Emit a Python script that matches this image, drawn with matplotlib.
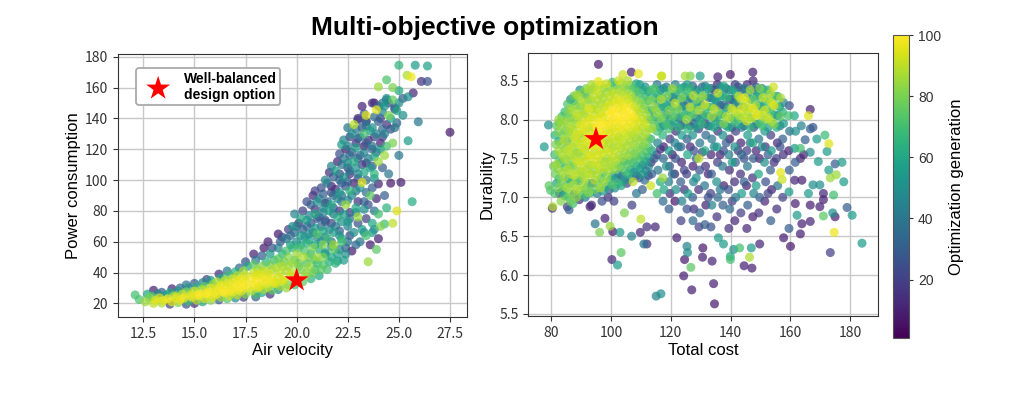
import numpy as np
import matplotlib
matplotlib.use("Agg")
import matplotlib.pyplot as plt
from matplotlib.cm import ScalarMappable
from matplotlib.colors import Normalize

plt.rcParams['font.family'] = ['Noto Sans CJK JP', 'DejaVu Sans']

# ---------------- data ----------------
# left panel: (air velocity, power consumption, generation)
left_band = [
    (12.1,25.5,70),(12.3,22.5,72),(12.6,21.0,85),(12.8,23.5,80),(12.7,26.0,60),
    (13.0,20.0,90),(13.1,22.0,95),(12.9,24.5,75),(13.2,26.2,45),(13.0,28.5,10),
    (13.4,20.2,88),(13.5,21.8,96),(13.3,23.6,92),(13.6,25.5,55),(13.4,27.2,30),
    (13.8,19.5,20),(13.9,21.0,95),(13.7,23.0,98),(14.0,25.0,85),(13.8,27.0,60),(13.9,29.5,12),
    (14.2,20.5,80),(14.3,22.0,97),(14.1,24.0,95),(14.4,26.0,90),(14.2,28.0,55),(14.3,30.0,35),
    (14.6,19.5,25),(14.7,21.5,70),(14.5,23.5,98),(14.8,25.5,94),(14.6,27.5,80),(14.7,30.0,50),(14.6,32.0,40),
    (15.0,20.0,15),(15.1,22.0,88),(14.9,24.0,96),(15.2,26.0,99),(15.0,28.0,92),(15.1,30.5,65),(15.0,33.0,30),
    (15.4,21.0,60),(15.5,23.0,93),(15.3,25.0,97),(15.6,27.0,99),(15.4,29.0,90),(15.5,31.0,75),(15.4,33.5,45),(15.6,35.5,20),
    (15.8,22.0,82),(15.9,24.0,95),(15.7,26.0,98),(16.0,28.0,96),(15.8,30.0,94),(15.9,32.5,80),(15.8,35.0,55),
    (16.2,22.3,30),(16.3,24.0,85),(16.1,26.0,97),(16.4,28.0,99),(16.2,30.0,97),(16.3,32.0,95),(16.1,34.0,88),(16.3,36.5,60),(16.2,39.0,15),
    (16.6,23.0,75),(16.7,25.0,92),(16.5,27.0,99),(16.8,29.0,98),(16.6,31.0,96),(16.7,33.0,94),(16.5,35.0,90),(16.7,38.0,70),(16.6,41.0,40),
    (17.0,23.5,50),(17.1,25.5,90),(16.9,27.5,96),(17.2,30.0,99),(17.0,32.0,98),(17.1,34.0,97),(16.9,36.0,93),(17.1,38.0,88),(17.0,40.5,65),(17.2,43.0,35),
    (17.4,24.0,20),(17.5,26.0,80),(17.3,28.0,94),(17.6,30.0,97),(17.4,32.0,99),(17.5,34.0,98),(17.3,36.0,96),(17.5,38.0,92),(17.4,41.0,85),(17.6,44.0,60),(17.5,47.0,25),
    (18.0,24.2,30),(18.0,26.0,70),(17.8,28.0,88),(18.1,30.0,95),(17.9,32.0,97),(18.0,34.0,99),(17.8,36.0,97),(18.0,38.0,95),(17.9,40.0,90),(18.1,42.0,85),(17.9,45.0,75),(18.0,48.0,40),(17.9,52.0,10),
    (18.3,27.0,60),(18.4,29.0,85),(18.2,31.0,93),(18.5,33.0,97),(18.3,35.0,98),(18.4,37.0,96),(18.2,39.0,94),(18.4,41.0,90),(18.3,44.0,80),(18.5,47.0,65),(18.3,51.0,30),(18.4,56.0,8),
    (18.7,26.0,15),(18.8,28.5,75),(18.6,30.5,88),(18.9,33.0,95),(18.7,35.0,97),(18.8,37.0,95),(18.6,39.5,92),(18.8,42.0,88),(18.7,45.0,78),(18.9,48.0,70),(18.7,52.0,55),(18.8,56.0,25),(18.6,60.0,10),
    (19.1,29.0,50),(19.2,31.0,85),(19.0,33.0,92),(19.3,35.0,95),(19.1,37.0,93),(19.2,40.0,90),(19.0,43.0,87),(19.2,46.0,80),(19.1,49.0,75),(19.3,52.0,65),(19.1,56.0,45),(19.2,60.0,30),(19.1,65.0,8),
    (19.5,30.0,85),(19.6,32.0,80),(19.4,35.0,90),(19.7,38.0,92),(19.5,41.0,88),(19.6,44.0,84),(19.4,47.0,78),(19.6,50.0,82),(19.5,54.0,70),(19.7,58.0,55),(19.5,62.0,40),(19.6,68.0,20),
    (19.9,32.0,70),(20.0,36.0,88),(19.8,40.0,90),(20.1,44.0,80),(19.9,48.0,75),(20.0,52.0,85),(19.8,56.0,65),(20.0,60.0,50),(19.9,66.0,35),(20.1,72.0,12),(19.9,78.0,45),
    (19.3,63.0,25),(19.7,64.0,35),(19.8,70.0,50),(19.3,44.0,88),(19.8,46.0,85),
]
left_cloud = [
    (20.3,34.0,75),(20.4,38.0,85),(20.2,42.0,80),(20.5,46.0,70),(20.3,50.0,88),(20.4,54.0,72),(20.2,58.0,60),(20.4,63.0,45),(20.3,68.0,30),(20.5,74.0,55),(20.3,80.0,20),
    (20.7,36.0,65),(20.8,40.0,78),(20.6,44.0,85),(20.9,48.0,72),(20.7,52.0,66),(20.8,56.0,80),(20.6,61.0,55),(20.8,66.0,40),(20.7,72.0,25),(20.9,78.0,60),(20.7,84.0,30),(20.8,90.0,12),
    (21.1,38.0,60),(21.2,42.0,75),(21.0,46.0,70),(21.3,50.0,80),(21.1,55.0,62),(21.2,60.0,50),(21.0,65.0,72),(21.2,70.0,35),(21.1,76.0,20),(21.3,82.0,50),(21.1,88.0,40),(21.2,95.0,25),
    (21.5,42.0,70),(21.6,47.0,62),(21.4,52.0,55),(21.7,57.0,48),(21.5,62.0,68),(21.6,68.0,45),(21.4,74.0,30),(21.6,80.0,55),(21.5,86.0,35),(21.7,92.0,20),(21.5,98.0,40),(21.6,105.0,15),
    (21.9,46.0,65),(22.0,52.0,58),(21.8,58.0,85),(22.1,64.0,50),(21.9,70.0,40),(22.0,76.0,62),(21.8,82.0,30),(22.0,88.0,45),(21.9,94.0,15),(22.1,100.0,35),(21.9,106.0,55),(22.0,112.0,10),
    (22.3,48.0,55),(22.4,56.0,30),(22.2,62.0,60),(22.5,70.0,45),(22.3,78.0,55),(22.4,84.0,85),(22.2,90.0,35),(22.4,96.0,25),(22.3,102.0,50),(22.5,108.0,20),(22.3,114.0,40),(22.4,120.0,8),(22.3,126.0,45),
    (22.7,54.0,8),(22.8,66.0,50),(22.6,75.0,35),(22.9,82.0,60),(22.7,90.0,45),(22.8,98.0,10),(22.6,106.0,40),(22.8,112.0,60),(22.7,118.0,30),(22.9,124.0,15),(22.7,130.0,50),(22.8,136.0,90),
    (23.1,60.0,40),(23.2,68.0,55),(23.0,76.0,85),(23.3,86.0,30),(23.1,95.0,50),(23.2,98.5,95),(23.0,104.0,45),(23.2,110.0,20),(23.1,116.0,35),(23.3,122.0,8),(23.1,128.0,40),(23.2,134.0,25),(23.0,140.0,12),(23.2,147.8,10),
    (23.5,47.0,85),(23.6,58.0,10),(23.4,64.0,70),(23.7,72.0,60),(23.5,84.0,25),(23.6,90.0,75),(23.4,100.0,35),(23.6,108.0,55),(23.5,114.0,40),(23.7,120.0,30),(23.5,126.0,15),(23.6,132.0,55),(23.4,138.0,20),(23.4,142.0,95),
    (23.9,55.0,75),(24.0,62.0,10),(23.8,68.0,45),(24.0,78.0,70),(23.9,88.0,12),(24.0,97.5,10),(23.8,104.0,65),(24.0,112.0,85),(23.9,118.0,35),(24.1,124.0,10),(23.9,130.0,45),(24.0,138.0,30),(23.9,145.6,95),(23.8,150.0,8),(24.0,160.5,85),
    (24.3,71.5,70),(24.4,82.0,65),(24.3,90.0,30),(24.5,104.0,40),(24.3,116.0,85),(24.4,122.0,70),(24.2,128.0,20),(24.4,136.0,15),(24.5,142.0,80),(24.3,148.0,55),(24.4,152.0,35),(24.4,165.0,72),
    (24.7,72.0,90),(24.9,80.0,95),(24.6,98.0,8),(24.7,124.0,80),(24.8,134.0,40),(24.6,140.0,60),(24.8,146.0,20),(24.7,152.0,75),(24.7,160.0,80),
    (25.0,116.0,40),(24.9,137.0,35),(25.2,142.0,50),(25.0,150.0,50),(25.0,158.0,60),(25.2,153.0,30),(25.0,174.5,65),
    (25.45,125.5,55),(25.1,98.5,10),(25.45,154.0,50),(25.4,168.0,88),(25.6,167.0,97),(25.7,156.5,12),(25.65,86.0,62),
    (25.8,174.5,55),(25.95,137.8,40),(26.1,164.0,15),(26.4,164.0,25),(26.4,174.0,58),(27.5,131.0,8),
    (24.0,148.0,30),(24.5,150.0,20),(24.2,144.0,45),(24.8,147.0,35),(23.7,150.0,15),(24.4,153.0,50),
    (24.9,145.0,60),(23.4,138.0,30),(24.6,133.0,25),(24.3,130.0,45),(22.0,47.5,55),(22.4,52.0,50),
    (20.1,46.0,75),(20.1,56.0,70),(20.2,64.0,55),(20.0,70.0,40),(20.2,75.0,60),
    (20.5,40.0,82),(20.6,50.0,78),(20.5,59.0,65),(20.6,65.0,50),(20.5,70.0,35),(20.6,77.0,45),(20.5,86.0,25),
    (20.9,42.0,70),(21.0,50.0,85),(20.9,58.0,60),(21.0,63.0,45),(20.9,69.0,55),(21.0,75.0,30),(20.9,81.0,15),(21.0,86.0,50),(20.9,93.0,20),
    (21.3,45.0,72),(21.4,53.0,50),(21.3,58.0,80),(21.4,63.0,40),(21.3,67.0,60),(21.4,73.0,25),(21.3,79.0,45),(21.4,85.0,10),(21.3,91.0,30),(21.4,100.0,45),
    (21.7,50.0,60),(21.8,55.0,75),(21.7,60.0,35),(21.8,66.0,55),(21.7,72.0,20),(21.8,78.0,40),(21.7,84.0,60),(21.8,90.0,35),(21.7,96.0,10),(21.8,102.0,30),(21.7,109.0,45),
    (22.1,55.0,45),(22.2,60.0,70),(22.1,67.0,30),(22.2,73.0,50),(22.1,80.0,15),(22.2,86.0,40),(22.1,92.0,55),(22.2,98.0,30),(22.1,104.0,20),(22.2,110.0,40),(22.1,117.0,25),(22.2,123.0,55),
    (22.5,60.0,40),(22.6,64.0,25),(22.5,73.0,55),(22.6,79.0,20),(22.5,87.0,45),(22.6,93.0,65),(22.5,99.0,30),(22.6,104.0,15),(22.5,111.0,50),(22.6,116.0,35),(22.5,122.0,45),(22.6,128.0,20),(22.5,134.0,40),
    (22.9,58.0,35),(23.0,72.0,25),(22.9,79.0,45),(23.0,86.0,15),(22.9,93.0,40),(23.0,101.0,25),(22.9,108.0,50),(23.0,114.0,30),(22.9,121.0,55),(23.0,127.0,25),(22.9,133.0,40),(23.0,139.0,20),
    (23.3,66.0,45),(23.4,75.0,20),(23.3,81.0,50),(23.4,92.0,35),(23.3,105.0,60),(23.4,111.0,15),(23.3,118.0,45),(23.4,124.0,30),(23.3,130.0,70),(23.4,135.0,40),(23.3,143.0,25),
    (23.7,66.0,55),(23.8,80.0,40),(23.7,95.0,30),(23.8,101.0,50),(23.7,109.0,25),(23.8,115.0,60),(23.7,122.0,40),(23.8,128.0,20),(23.7,134.0,50),(23.8,141.0,35),
    (24.1,70.0,80),(24.2,108.0,30),(24.1,120.0,55),(24.2,133.0,35),(24.1,140.0,20),(24.2,150.0,40),
]

# right panel: (total cost, durability, generation)
right_core = [
    (81.3,7.05,72),(81.8,7.18,60),(81.4,7.30,78),(81.7,7.42,85),(81.2,7.55,70),(81.6,7.68,80),(81.3,7.80,65),(81.8,7.92,75),
    (82.5,7.12,80),(82.6,7.24,68),(82.4,7.36,82),(82.7,7.48,75),(82.5,7.60,85),(82.6,7.72,62),(82.4,7.84,80),(82.7,7.96,72),(82.5,8.00,85),
    (83.3,6.95,82),(83.7,7.08,55),(83.4,7.20,80),(83.8,7.32,86),(83.2,7.44,72),(83.6,7.56,88),(83.4,7.68,84),(83.8,7.80,78),(83.3,7.92,85),(83.6,8.04,70),
    (84.5,7.02,65),(84.6,7.14,78),(84.4,7.26,84),(84.7,7.38,70),(84.5,7.50,86),(84.6,7.62,80),(84.4,7.74,88),(84.7,7.86,74),(84.5,7.98,82),(84.6,8.10,68),
    (85.4,6.88,20),(85.7,7.00,75),(85.3,7.12,86),(85.8,7.24,50),(85.5,7.36,88),(85.2,7.48,84),(85.7,7.60,90),(85.4,7.72,60),(85.8,7.84,86),(85.3,7.96,85),(85.6,8.08,80),(85.5,8.20,72),
    (86.5,6.95,78),(86.6,7.06,82),(86.4,7.18,70),(86.7,7.30,88),(86.5,7.42,80),(86.6,7.54,86),(86.4,7.66,90),(86.7,7.78,84),(86.5,7.90,88),(86.6,8.02,76),(86.4,8.14,84),(86.5,8.26,45),
    (87.3,6.92,70),(87.7,7.04,30),(87.4,7.16,86),(87.8,7.28,90),(87.3,7.40,78),(87.6,7.52,88),(87.4,7.64,86),(87.8,7.76,92),(87.3,7.88,88),(87.7,8.00,84),(87.4,8.12,86),(87.6,8.24,65),(87.5,8.30,75),
    (88.5,7.00,82),(88.6,7.10,88),(88.4,7.22,76),(88.7,7.34,86),(88.5,7.46,90),(88.6,7.58,84),(88.4,7.70,88),(88.7,7.82,93),(88.5,7.94,86),(88.6,8.06,90),(88.4,8.18,80),(88.5,8.32,86),
    (89.4,6.97,15),(89.7,7.09,80),(89.3,7.21,60),(89.8,7.33,88),(89.5,7.45,92),(89.2,7.57,86),(89.6,7.69,92),(89.4,7.81,88),(89.8,7.93,94),(89.3,8.05,88),(89.7,8.17,82),(89.4,8.29,86),(89.6,8.38,50),
    (90.5,7.03,70),(90.6,7.15,86),(90.4,7.27,82),(90.7,7.39,90),(90.5,7.51,86),(90.6,7.63,92),(90.4,7.75,88),(90.7,7.87,95),(90.5,7.99,90),(90.6,8.11,86),(90.4,8.23,88),(90.5,8.35,78),
    (91.4,7.00,45),(91.7,7.12,70),(91.3,7.24,88),(91.8,7.36,85),(91.5,7.48,92),(91.2,7.60,88),(91.7,7.72,94),(91.4,7.84,90),(91.8,7.96,96),(91.3,8.08,88),(91.6,8.20,86),(91.4,8.32,55),(91.7,8.40,80),
    (92.5,7.06,82),(92.6,7.18,75),(92.4,7.30,90),(92.7,7.42,86),(92.5,7.54,93),(92.6,7.66,90),(92.4,7.78,96),(92.7,7.90,92),(92.5,8.02,88),(92.6,8.14,94),(92.4,8.26,84),(92.5,8.38,88),
    (93.3,7.06,60),(93.7,7.18,25),(93.4,7.30,86),(93.8,7.42,90),(93.3,7.54,94),(93.6,7.66,96),(93.4,7.78,98),(93.8,7.90,92),(93.3,8.02,95),(93.7,8.14,88),(93.4,8.26,85),(93.6,8.38,75),(93.5,8.45,88),
    (94.5,7.10,78),(94.6,7.22,88),(94.4,7.34,84),(94.7,7.46,92),(94.5,7.58,88),(94.6,7.70,96),(94.4,7.82,92),(94.7,7.94,98),(94.5,8.06,90),(94.6,8.18,86),(94.4,8.30,90),(94.5,8.42,82),
    (95.4,7.05,40),(95.7,7.17,75),(95.3,7.29,88),(95.8,7.41,90),(95.5,7.53,94),(95.2,7.65,96),(95.7,7.77,98),(95.4,7.89,100),(95.8,8.01,95),(95.3,8.13,90),(95.6,8.25,88),(95.4,8.37,92),(95.8,8.49,96),
    (96.5,7.12,86),(96.6,7.24,70),(96.4,7.36,90),(96.7,7.48,86),(96.5,7.60,92),(96.6,7.72,95),(96.4,7.84,98),(96.7,7.96,100),(96.5,8.08,92),(96.6,8.20,88),(96.4,8.32,84),(96.5,8.44,90),
    (97.3,7.08,55),(97.7,7.20,85),(97.4,7.32,70),(97.8,7.44,88),(97.3,7.56,92),(97.6,7.68,90),(97.4,7.80,96),(97.8,7.92,99),(97.3,8.04,94),(97.7,8.16,90),(97.4,8.28,88),(97.6,8.40,82),
    (98.5,7.14,60),(98.6,7.26,82),(98.4,7.38,88),(98.7,7.50,84),(98.5,7.62,90),(98.6,7.74,86),(98.4,7.86,92),(98.7,7.98,97),(98.5,8.10,95),(98.6,8.22,88),(98.4,8.34,86),(98.5,8.46,92),
    (99.4,7.10,30),(99.7,7.22,65),(99.3,7.34,86),(99.8,7.46,88),(99.5,7.58,92),(99.2,7.70,90),(99.6,7.82,94),(99.4,7.94,98),(99.8,8.06,100),(99.3,8.18,94),(99.7,8.30,90),(99.4,8.42,78),
    (100.5,7.16,72),(100.6,7.28,55),(100.4,7.40,86),(100.7,7.52,90),(100.5,7.64,84),(100.6,7.76,92),(100.4,7.88,95),(100.7,8.00,99),(100.5,8.12,100),(100.6,8.24,92),(100.4,8.36,88),(100.5,8.48,70),
    (101.3,7.12,50),(101.7,7.24,40),(101.4,7.36,82),(101.8,7.48,88),(101.3,7.60,90),(101.6,7.72,88),(101.4,7.84,94),(101.8,7.96,97),(101.3,8.08,100),(101.7,8.20,95),(101.4,8.32,90),(101.6,8.44,70),
    (102.5,7.18,65),(102.6,7.30,45),(102.4,7.42,78),(102.7,7.54,86),(102.5,7.66,90),(102.6,7.78,86),(102.4,7.90,96),(102.7,8.02,100),(102.5,8.14,98),(102.6,8.26,94),(102.4,8.38,85),(102.5,8.50,92),
    (103.4,7.15,60),(103.7,7.27,35),(103.3,7.39,78),(103.8,7.51,86),(103.5,7.63,88),(103.2,7.75,92),(103.6,7.87,95),(103.4,7.99,100),(103.8,8.11,98),(103.3,8.23,95),(103.7,8.35,88),(103.5,8.47,86),(104.0,8.58,92),
    (104.5,7.22,50),(104.6,7.34,70),(104.4,7.46,60),(104.7,7.58,84),(104.5,7.70,88),(104.6,7.82,92),(104.4,7.94,98),(104.7,8.06,100),(104.5,8.18,96),(104.6,8.30,90),(104.4,8.42,82),
    (105.3,7.18,20),(105.7,7.30,65),(105.4,7.42,75),(105.8,7.54,84),(105.3,7.66,88),(105.6,7.78,90),(105.4,7.90,95),(105.8,8.02,99),(105.3,8.14,100),(105.7,8.26,92),(105.4,8.38,80),(105.6,8.50,88),
    (106.5,7.24,40),(106.6,7.36,55),(106.4,7.48,72),(106.7,7.60,80),(106.5,7.72,86),(106.6,7.84,90),(106.4,7.96,97),(106.7,8.08,100),(106.5,8.20,94),(106.6,8.32,86),(106.4,8.44,75),
    (107.4,7.20,90),(107.7,7.32,50),(107.3,7.44,70),(107.8,7.56,80),(107.5,7.68,86),(107.2,7.80,88),(107.6,7.92,94),(107.4,8.04,97),(107.8,8.16,92),(107.3,8.28,80),(107.6,8.40,70),
    (108.5,7.28,35),(108.6,7.40,60),(108.4,7.52,75),(108.7,7.64,82),(108.5,7.76,86),(108.6,7.88,92),(108.4,8.00,95),(108.7,8.12,90),(108.5,8.24,84),(108.6,8.36,72),(108.5,8.46,60),
    (109.4,7.25,25),(109.7,7.37,55),(109.3,7.49,68),(109.8,7.61,78),(109.5,7.73,84),(109.2,7.85,88),(109.6,7.97,92),(109.4,8.09,88),(109.8,8.21,82),(109.3,8.33,70),(109.6,8.45,55),
    (110.5,7.30,55),(110.6,7.42,40),(110.4,7.54,70),(110.7,7.66,78),(110.5,7.78,85),(110.6,7.90,88),(110.4,8.02,90),(110.7,8.14,84),(110.5,8.26,75),(110.6,8.38,60),
    (111.3,7.22,35),(111.7,7.34,45),(111.4,7.46,60),(111.8,7.58,72),(111.3,7.70,82),(111.6,7.82,88),(111.4,7.94,92),(111.8,8.06,85),(111.3,8.18,78),(111.7,8.30,65),(111.4,8.42,50),
    (112.5,7.28,20),(112.6,7.40,45),(112.4,7.52,55),(112.7,7.64,70),(112.5,7.76,75),(112.6,7.88,86),(112.4,8.00,80),(112.7,8.12,72),(112.5,8.24,70),(112.6,8.36,55),
]
right_mid = [
    (113.3,7.15,92),(113.6,7.30,30),(113.4,7.45,15),(113.7,7.60,55),(113.3,7.75,65),(113.6,7.88,85),(113.4,8.00,75),(113.8,8.12,55),(113.5,8.25,80),(113.3,8.38,70),
    (115.4,7.05,70),(115.7,7.35,40),(115.3,7.55,20),(115.6,7.70,45),(115.4,7.85,70),(115.8,7.97,60),(115.3,8.09,85),(115.6,8.21,55),(115.5,8.33,65),(115.4,8.45,40),(116.8,8.56,92),
    (117.4,6.95,35),(117.7,7.10,60),(117.3,7.25,85),(117.5,7.50,35),(117.6,7.65,10),(117.3,7.80,65),(117.7,7.92,50),(117.4,8.04,75),(117.8,8.16,45),(117.3,8.28,60),(117.6,8.40,52),
    (119.4,6.85,30),(119.7,7.05,15),(119.3,7.20,45),(119.6,7.40,25),(119.4,7.60,55),(119.7,7.75,20),(119.3,7.88,70),(119.6,8.00,55),(119.4,8.12,80),(119.8,8.24,50),(119.5,8.36,62),
    (121.4,6.95,8),(121.7,7.10,50),(121.3,7.30,10),(121.6,7.50,25),(121.4,7.70,45),(121.7,7.85,15),(121.3,7.97,60),(121.6,8.09,70),(121.4,8.21,90),(121.7,8.33,55),(121.5,8.45,45),
    (123.4,6.70,20),(123.7,6.95,45),(123.3,7.20,30),(123.6,7.45,12),(123.4,7.65,35),(123.7,7.80,55),(123.3,7.92,25),(123.6,8.04,65),(123.4,8.16,50),(123.7,8.28,80),(123.5,8.40,60),
    (125.4,6.85,25),(125.7,7.05,55),(125.3,7.30,20),(125.6,7.55,60),(125.4,7.75,30),(125.7,7.88,65),(125.3,8.00,85),(125.6,8.12,55),(125.4,8.24,40),(125.7,8.36,70),(125.5,8.45,55),(124.8,8.56,85),(126.5,8.56,80),
    (127.4,6.70,35),(127.7,6.85,15),(127.3,7.00,30),(127.6,7.20,45),(127.4,7.40,10),(127.7,7.60,25),(127.3,7.80,50),(127.6,7.95,35),(127.4,8.07,75),(127.7,8.19,55),(127.5,8.31,88),(127.3,8.43,30),
    (129.4,6.62,20),(129.7,6.80,35),(129.3,7.10,15),(129.6,7.35,25),(129.4,7.50,90),(129.7,7.70,40),(129.3,7.88,20),(129.6,8.00,60),(129.4,8.12,88),(129.7,8.24,50),(129.5,8.36,60),(129.8,8.56,55),
    (131.4,6.65,30),(131.7,6.90,10),(131.3,7.15,40),(131.6,7.40,15),(131.4,7.60,60),(131.7,7.80,35),(131.3,7.95,20),(131.6,8.07,70),(131.4,8.19,92),(131.7,8.31,60),(131.5,8.43,45),
    (133.4,6.62,25),(133.7,6.90,45),(133.3,7.05,20),(133.6,7.30,30),(133.4,7.55,12),(133.7,7.75,40),(133.3,7.92,55),(133.6,8.04,85),(133.4,8.16,62),(133.7,8.28,40),(133.5,8.40,30),
    (135.4,6.75,15),(135.7,7.00,35),(135.3,7.20,50),(135.6,7.45,20),(135.4,7.65,55),(135.7,7.85,15),(135.3,7.98,65),(135.6,8.10,80),(135.4,8.22,45),(135.7,8.34,90),(135.5,8.45,12),(135.7,8.55,12),
    (137.4,6.90,30),(137.7,7.15,10),(137.3,7.40,40),(137.6,7.60,25),(137.4,7.80,50),(137.7,7.95,80),(137.3,8.07,60),(137.6,8.19,30),(137.4,8.31,55),(137.7,8.43,60),
    (139.4,6.60,15),(139.7,6.85,35),(139.3,7.10,25),(139.6,7.35,15),(139.4,7.55,45),(139.7,7.75,10),(139.3,7.90,60),(139.6,8.02,85),(139.4,8.14,70),(139.7,8.26,10),(139.5,8.38,45),(139.9,8.58,8),
    (141.4,6.70,12),(141.7,7.00,40),(141.3,7.20,15),(141.6,7.45,30),(141.4,7.65,50),(141.7,7.85,20),(141.3,7.98,70),(141.6,8.10,90),(141.4,8.22,35),(141.7,8.34,55),(141.5,8.45,20),
    (143.4,6.80,20),(143.7,7.05,55),(143.3,7.30,15),(143.6,7.55,35),(143.4,7.70,12),(143.7,7.90,45),(143.3,8.02,80),(143.6,8.14,95),(143.4,8.26,88),(143.7,8.38,30),
    (145.4,6.60,12),(145.7,6.90,30),(145.3,7.15,10),(145.6,7.40,40),(145.4,7.60,20),(145.7,7.80,55),(145.3,7.98,90),(145.6,8.10,85),(145.4,8.22,92),(145.7,8.34,50),(145.5,8.45,15),
    (147.4,6.75,10),(147.7,7.05,45),(147.3,7.25,15),(147.6,7.50,30),(147.4,7.70,60),(147.7,7.90,25),(147.3,8.02,88),(147.6,8.14,94),(147.4,8.26,75),(147.7,8.38,35),(147.5,8.50,12),(147.4,8.61,10),
    (149.4,6.80,15),(149.7,7.00,30),(149.3,7.30,60),(149.6,7.50,10),(149.4,7.75,40),(149.7,7.95,70),(149.3,8.07,90),(149.6,8.19,55),(149.4,8.31,60),(149.7,8.40,80),
    (151.4,6.95,12),(151.7,7.20,25),(151.3,7.45,50),(151.6,7.65,15),(151.4,7.85,55),(151.7,8.00,80),(151.3,8.12,92),(151.6,8.24,65),(151.4,8.36,70),
    (153.4,6.70,30),(153.7,7.10,10),(153.3,7.35,30),(153.6,7.60,55),(153.4,7.80,20),(153.7,7.97,85),(153.3,8.10,70),(153.6,8.22,90),(153.4,8.34,88),(154.3,8.42,92),
    (155.4,6.85,15),(155.7,7.15,40),(155.3,7.50,20),(155.6,7.70,12),(155.4,7.90,60),(155.7,8.05,45),(155.3,8.18,75),(155.6,8.30,60),
    (114.5,7.92,78),(114.6,8.04,62),(114.4,8.16,85),(114.7,8.28,60),(114.5,8.40,72),
    (116.5,7.90,55),(116.6,8.02,80),(116.4,8.14,65),(116.7,8.26,88),(116.5,8.38,50),
    (118.5,7.94,70),(118.6,8.06,45),(118.4,8.18,62),(118.7,8.30,80),(118.5,8.42,40),
    (120.5,7.92,40),(120.6,8.04,75),(120.4,8.16,60),(120.7,8.28,35),(120.5,8.40,85),
    (122.5,7.90,65),(122.6,8.02,30),(122.4,8.14,80),(122.7,8.26,55),(122.5,8.38,70),
    (124.5,7.94,45),(124.6,8.06,70),(124.4,8.18,35),(124.7,8.30,60),(124.5,8.42,50),
    (126.5,7.92,30),(126.6,8.04,60),(126.4,8.16,90),(126.7,8.28,45),(126.5,8.40,65),
    (128.5,7.90,55),(128.6,8.02,25),(128.4,8.14,65),(128.7,8.26,80),(128.5,8.38,40),
    (130.5,7.94,65),(130.6,8.06,40),(130.4,8.18,55),(130.7,8.30,85),(130.5,8.42,30),
    (132.5,7.92,25),(132.6,8.04,55),(132.4,8.16,70),(132.7,8.28,35),(132.5,8.40,60),
    (134.5,7.90,60),(134.6,8.02,30),(134.4,8.14,90),(134.7,8.26,55),(134.5,8.38,20),
    (136.5,7.94,40),(136.6,8.06,70),(136.4,8.18,25),(136.7,8.30,60),(136.5,8.42,45),
    (138.5,7.92,55),(138.6,8.04,88),(138.4,8.16,40),(138.7,8.28,65),(138.5,8.40,30),
    (140.5,7.90,30),(140.6,8.02,65),(140.4,8.14,92),(140.7,8.26,45),(140.5,8.38,60),
    (142.5,7.94,60),(142.6,8.06,85),(142.4,8.18,50),(142.7,8.30,90),(142.5,8.42,25),
    (144.5,7.92,35),(144.6,8.04,90),(144.4,8.16,70),(144.7,8.28,95),(144.5,8.40,40),
    (146.5,7.90,65),(146.6,8.02,80),(146.4,8.14,92),(146.7,8.26,55),(146.5,8.38,85),
    (148.5,7.94,45),(148.6,8.06,95),(148.4,8.18,85),(148.7,8.30,60),(148.5,8.42,30),
    (150.5,7.92,70),(150.6,8.04,88),(150.4,8.16,60),(150.7,8.28,90),(150.5,8.40,45),
    (152.5,7.90,55),(152.6,8.02,92),(152.4,8.14,75),(152.7,8.26,85),(152.5,8.38,60),
    (154.5,7.94,80),(154.6,8.06,60),(154.4,8.18,95),(154.7,8.30,70),
    (156.5,7.92,40),(156.6,8.04,75),(156.4,8.16,55),(156.7,8.28,88),
    (114.5,7.50,30),(116.5,7.62,15),(118.5,7.40,50),(120.5,7.55,10),(122.5,7.65,40),(124.5,7.35,20),(126.5,7.65,12),
    (128.5,7.50,35),(130.5,7.58,20),(132.5,7.30,10),(134.5,7.65,45),(136.5,7.55,10),(138.5,7.70,30),(140.5,7.45,55),
    (142.5,7.60,15),(144.5,7.50,25),(146.5,7.70,40),(148.5,7.60,12),(150.5,7.65,50),(152.5,7.55,30),(154.5,7.45,15),(156.5,7.65,25),
    (116.5,7.20,60),(120.5,7.30,40),(124.5,7.10,15),(128.5,7.25,50),(132.5,7.00,25),(136.5,7.10,40),(140.5,6.95,20),
    (144.5,7.20,30),(148.5,7.15,55),(152.5,7.05,20),
]
right_sparse = [
    (157.7,6.48,10),(157.4,7.00,20),(156.7,7.32,96),(157.2,7.23,92),(157.6,7.55,15),(157.4,7.75,30),(157.7,7.95,55),(157.3,8.10,65),(157.6,8.22,45),
    (160.0,6.37,8),(159.5,6.60,30),(159.5,7.07,55),(159.6,7.35,30),(159.4,7.60,10),(159.7,7.85,40),(159.3,8.05,70),(159.6,8.18,25),
    (161.6,6.92,10),(162.2,6.77,55),(161.4,7.22,12),(161.6,7.45,30),(161.4,7.63,55),(161.7,7.85,50),(161.3,8.05,60),
    (163.3,6.53,10),(163.8,6.66,10),(163.8,7.22,10),(163.3,7.50,12),(163.3,7.63,70),(164.4,7.55,10),(164.9,7.74,30),(163.6,7.92,45),
    (166.6,6.69,12),(166.6,6.90,10),(166.0,7.05,55),(167.5,7.16,50),(166.6,7.58,50),(166.6,7.88,30),(167.5,7.90,28),(166.0,8.05,95),(166.6,8.13,10),
    (168.8,7.75,55),(169.3,7.46,55),(169.8,7.16,50),(169.8,6.88,10),(171.0,6.97,10),(171.0,7.05,12),(171.0,6.76,75),(171.5,7.80,68),(172.2,7.59,55),
    (172.8,7.69,95),(172.8,7.35,55),(173.3,7.25,85),(175.3,7.29,85),(174.9,7.43,30),(174.4,7.03,70),(174.1,6.80,50),(174.9,6.75,10),(174.6,6.55,97),(173.3,6.29,20),
    (177.8,7.20,55),(177.2,7.45,55),(178.9,6.87,30),(180.6,6.77,55),(183.9,6.41,55),
    (77.7,7.65,55),(79.1,7.93,50),(79.3,7.15,75),(79.8,7.09,72),(80.8,7.40,78),(80.4,6.86,12),(80.6,6.88,88),(82.8,7.05,15),
    (86.0,6.84,30),(93.0,6.88,10),(94.7,6.66,40),(96.2,6.55,80),(98.0,6.73,10),(100.6,6.56,8),(99.7,6.63,85),(100.3,6.20,12),
    (102.2,6.13,55),(103.4,6.29,75),(103.0,6.55,55),(106.9,6.50,45),(109.8,6.55,12),(111.0,6.40,40),(112.0,6.40,15),(114.8,6.62,12),
    (115.1,5.73,45),(116.7,5.76,50),(95.8,8.71,8),(106.8,8.61,10),(109.2,8.59,96),(117.0,8.56,92),(101.0,6.95,20),(104.5,6.80,80),
    (107.0,6.90,20),(110.0,6.72,90),(112.0,6.62,15),(108.5,7.05,40),(110.5,7.10,30),(97.0,6.95,25),(99.0,7.00,15),(93.5,6.90,12),
    (122.0,6.48,10),(125.4,6.37,45),(125.6,6.29,50),(124.6,6.20,8),(124.3,5.99,10),(126.7,6.10,75),(127.0,5.81,10),(130.7,6.35,8),
    (130.6,6.23,10),(133.8,6.18,12),(134.3,5.89,10),(134.6,5.63,8),(135.9,6.48,55),(137.6,6.40,55),(139.9,6.24,60),(139.9,6.20,70),
    (141.0,6.33,50),(143.0,6.35,70),(146.3,6.23,88),(146.9,6.35,55),(144.5,6.12,10),(147.1,6.09,10),(149.7,6.40,12),
]

star_left = (20.0, 35.0)     # well-balanced design option (air velocity, power)
star_right = (95.0, 7.75)    # well-balanced design option (total cost, durability)
gen_min, gen_max = 1, 100

left_xticks = [12.5, 15.0, 17.5, 20.0, 22.5, 25.0, 27.5]
left_yticks = [20, 40, 60, 80, 100, 120, 140, 160, 180]
right_xticks = [80, 100, 120, 140, 160, 180]
right_yticks = [5.5, 6.0, 6.5, 7.0, 7.5, 8.0, 8.5]
cbar_ticks = [20, 40, 60, 80, 100]

# ---------------- figure ----------------
LAB = 'Liberation Sans'
fig = plt.figure(figsize=(10.24, 3.98), dpi=100)
ax1 = fig.add_axes([0.115, 0.204, 0.341, 0.660])
ax2 = fig.add_axes([0.516, 0.206, 0.341, 0.661])
cax = fig.add_axes([0.8724, 0.1515, 0.0153, 0.7605])
norm = Normalize(vmin=gen_min, vmax=gen_max)


def panel(ax, pts, star, xt, yt, xlim, ylim, xfmt, yfmt, xlabel, ylabel):
    arr = np.array(pts, dtype=float)
    order = np.argsort(arr[:, 2], kind='stable')
    ax.scatter(arr[order, 0], arr[order, 1], c=arr[order, 2], cmap='viridis',
               norm=norm, s=42, alpha=0.72, edgecolors='none', zorder=2)
    ax.scatter([star[0]], [star[1]], marker='*', s=330, color='red',
               edgecolors='none', zorder=4, label='Well-balanced\ndesign option')
    ax.set_xticks(xt)
    ax.set_yticks(yt)
    ax.set_xticklabels([xfmt.format(v) for v in xt])
    ax.set_yticklabels([yfmt.format(v) for v in yt])
    ax.set_xlim(*xlim)
    ax.set_ylim(*ylim)
    ax.grid(True, color='#c8c8c8', linewidth=1.0)
    ax.set_axisbelow(True)
    ax.tick_params(labelsize=10, colors='#333333', length=3.5)
    for sp in ax.spines.values():
        sp.set_color('#333333')
    ax.set_xlabel(xlabel, fontsize=12, family=LAB, labelpad=2)
    ax.set_ylabel(ylabel, fontsize=12, family=LAB, labelpad=3)


panel(ax1, left_band + left_cloud, star_left, left_xticks, left_yticks,
      (11.25, 28.33), (11.3, 181.7), '{:.1f}', '{:d}',
      'Air velocity', 'Power consumption')
panel(ax2, right_core + right_mid + right_sparse, star_right, right_xticks, right_yticks,
      (72.4, 189.1), (5.474, 8.857), '{:d}', '{:.1f}',
      'Total cost', 'Durability')

leg = ax1.legend(loc='upper left', bbox_to_anchor=(0.052, 0.947), borderaxespad=0,
                 prop={'family': LAB, 'weight': 'bold', 'size': 10},
                 frameon=True, fancybox=True, framealpha=1, edgecolor='#aaaaaa',
                 handlelength=2.7, handletextpad=0.5, borderpad=0.25, scatterpoints=1)
leg.get_frame().set_linewidth(1.3)

sm = ScalarMappable(norm=norm, cmap='viridis')
cb = fig.colorbar(sm, cax=cax)
cb.set_ticks(cbar_ticks)
cb.ax.tick_params(labelsize=10, colors='#333333', length=3)
for lbl in cb.ax.get_yticklabels():
    lbl.set_family(LAB)
cb.outline.set_edgecolor('#555555')
cb.set_label('Optimization generation', fontsize=12, family=LAB, labelpad=6)

fig.text(0.473, 0.93, 'Multi-objective optimization', ha='center', va='center',
         fontsize=19, fontweight='bold', family=LAB)

fig.savefig('out.png', dpi=100)
